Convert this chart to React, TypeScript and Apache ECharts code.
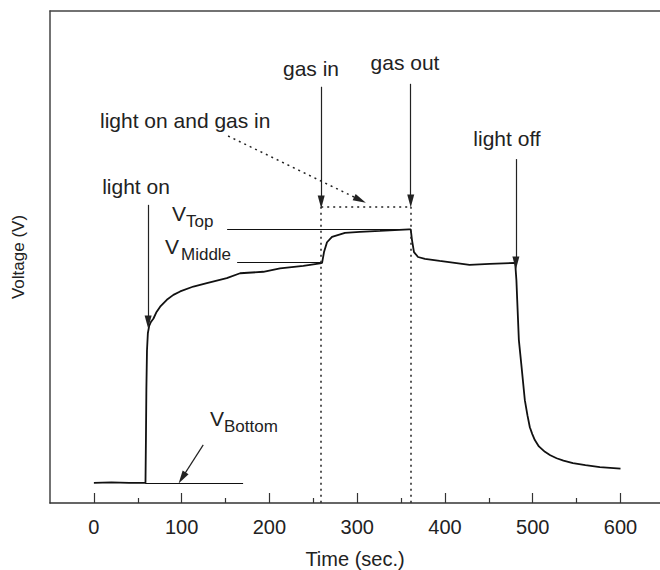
import React, { useEffect, useRef } from "react";
import * as echarts from "echarts";

const times = [0, 20, 40, 58.8, 59.3, 59.8, 60.5, 61.5, 63, 65, 67.9, 71, 75.5, 83.1, 90.6, 98.3, 113.4, 128.7, 151.4, 166.6, 193.1, 212.1, 238.6, 257.7, 260, 262.2, 265.6, 271.3, 286.1, 303, 326, 359, 361, 362.4, 364.7, 369.3, 377.2, 394, 428, 451, 480, 481.4, 482.3, 484.2, 487.3, 491, 494, 496.7, 499.5, 502.4, 507, 513.9, 520, 527.2, 535, 545.8, 560, 576.5, 600];
const volts = [0.41, 0.42, 0.41, 0.41, 1.3, 2.3, 3.1, 3.45, 3.6, 3.68, 3.75, 3.87, 3.99, 4.13, 4.23, 4.3, 4.4, 4.47, 4.57, 4.67, 4.7, 4.77, 4.82, 4.87, 4.88, 5.1, 5.3, 5.41, 5.49, 5.51, 5.53, 5.56, 5.56, 5.35, 5.1, 5.0, 4.96, 4.92, 4.84, 4.86, 4.88, 4.53, 4.13, 3.31, 2.76, 2.09, 1.78, 1.54, 1.4, 1.28, 1.15, 1.04, 0.97, 0.91, 0.86, 0.81, 0.77, 0.73, 0.7];
const majorTicks = [0, 100, 200, 300, 400, 500, 600];
const minorTicks = [50, 150, 250, 350, 450, 550];

const FONT = "'Liberation Sans', Arial, Helvetica, sans-serif";
const INK = "#222";

function txt(text: string, x: number, y: number, size = 21, align = "center") {
  return {
    type: "text",
    x,
    y,
    style: { text, fill: INK, font: `${size}px ${FONT}`, textAlign: align, textVerticalAlign: "middle" },
    silent: true,
  };
}

export default function App() {
  const ref = useRef<HTMLDivElement>(null);
  useEffect(() => {
    const chart = echarts.init(ref.current!, null, { renderer: "svg" });
    const data = times.map((t, i) => [t, volts[i]]);
    const seg = (a: number[], b: number[]) => [{ coord: a }, { coord: b }];
    const baseMark = { silent: true, animation: false, label: { show: false }, emphasis: { disabled: true } };
    const xBase = { type: "value", min: -50, max: 645, splitLine: { show: false } };
    chart.setOption({
      animation: false,
      grid: { left: 50, right: 0, top: 11, bottom: 67, outerBoundsMode: "none", containLabel: false },
      xAxis: [
        {
          ...xBase,
          position: "bottom",
          name: "Time (sec.)",
          nameLocation: "middle",
          nameGap: 46,
          nameTextStyle: { fontSize: 20, fontFamily: FONT, color: INK },
          axisLine: { show: true, onZero: false, lineStyle: { color: "#333", width: 1.5 } },
          axisTick: { show: true, inside: true, length: 10, customValues: majorTicks, lineStyle: { color: "#333", width: 1.2 } },
          axisLabel: { customValues: majorTicks, fontSize: 20, fontFamily: FONT, color: INK, margin: 14 },
        },
        {
          ...xBase,
          position: "bottom",
          axisLine: { show: false, onZero: false },
          axisTick: { show: true, inside: true, length: 5, customValues: minorTicks, lineStyle: { color: "#333", width: 1.2 } },
          axisLabel: { show: false },
        },
        {
          ...xBase,
          position: "top",
          axisLine: { show: true, onZero: false, lineStyle: { color: "#444", width: 1.5 } },
          axisTick: { show: false },
          axisLabel: { show: false },
        },
      ],
      yAxis: {
        type: "value",
        min: 0,
        max: 10,
        position: "left",
        name: "Voltage (V)",
        nameLocation: "middle",
        nameGap: 23,
        nameTextStyle: { fontSize: 17, fontFamily: FONT, color: INK },
        axisLine: { show: true, onZero: false, lineStyle: { color: "#444", width: 1.5 } },
        axisTick: { show: false },
        axisLabel: { show: false },
        splitLine: { show: false },
      },
      series: [
        {
          type: "line",
          data,
          showSymbol: false,
          smooth: false,
          lineStyle: { color: "#111", width: 1.8 },
          silent: true,
        },
        {
          type: "line",
          data: [],
          markLine: {
            ...baseMark,
            symbol: ["none", "none"],
            lineStyle: { color: "#111", width: 1.2, type: "solid" },
            data: [
              seg([151.8, 5.57], [360, 5.57]),
              seg([163.2, 4.9], [259, 4.9]),
              seg([58.4, 0.41], [170, 0.41]),
            ],
          },
        },
        {
          type: "line",
          data: [],
          markLine: {
            ...baseMark,
            symbol: ["none", "triangle"],
            symbolSize: [7, 13],
            lineStyle: { color: "#222", width: 1.2, type: "solid" },
            data: [
              seg([61.8, 6.06], [61.8, 3.68]),
              seg([259, 8.46], [259, 6.12]),
              seg([361, 8.52], [361, 6.14]),
              seg([480.8, 6.99], [480.8, 4.88]),
              seg([124.6, 1.18], [100.5, 0.51]),
            ],
          },
        },
        {
          type: "line",
          data: [],
          markLine: {
            ...baseMark,
            symbol: ["none", "none"],
            lineStyle: { color: "#222", width: 1.5, type: [2, 4] },
            data: [
              seg([259, 6.02], [259, 0]),
              seg([361, 6.02], [361, 0]),
              seg([259, 6.02], [361, 6.02]),
            ],
          },
        },
        {
          type: "line",
          data: [],
          markLine: {
            ...baseMark,
            symbol: ["none", "triangle"],
            symbolSize: [7, 13],
            lineStyle: { color: "#222", width: 1.5, type: [2, 4] },
            data: [seg([152.9, 7.46], [303.2, 6.16])],
          },
        },
      ],
      graphic: [
        txt("light on", 136, 186),
        txt("light on and gas in", 100, 120, 21, "left"),
        txt("gas in", 311, 68),
        txt("gas out", 405, 62),
        txt("light off", 507, 138),
        txt("V", 172, 213, 21, "left"),
        txt("Top", 186, 221, 17, "left"),
        txt("V", 165, 246, 21, "left"),
        txt("Middle", 181, 254, 17, "left"),
        txt("V", 210, 418, 21, "left"),
        txt("Bottom", 224, 426, 17, "left"),
      ],
    });
    return () => chart.dispose();
  }, []);
  return <div ref={ref} style={{ width: 660, height: 570, position: "absolute", left: 0, top: 0 }} />;
}
